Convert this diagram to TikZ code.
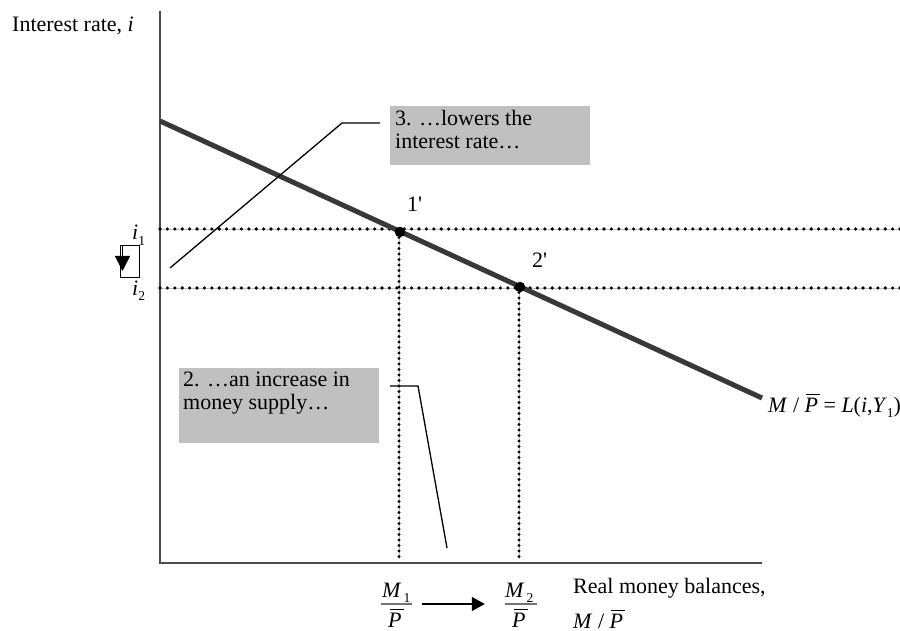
\documentclass[tikz,border=0pt]{standalone}
\usepackage{fontspec}
\setmainfont{Liberation Serif}
\usetikzlibrary{arrows.meta}
\definecolor{boxgray}{RGB}{192,192,192}
\newcommand\barP{\makebox[0pt][l]{\hspace{0.08em}\rule[0.76em]{0.64em}{1.3pt}}\textit{P}}
\newcommand\subs[1]{\raisebox{-0.24em}{\fontsize{13.5}{13.5}\selectfont #1}}
\begin{document}
\begin{tikzpicture}[x=1pt,y=-1pt,
  lbl/.style={font=\fontsize{22}{23}\selectfont, inner sep=0},
  axisline/.style={draw=black!70, line width=1.5pt},
  demand/.style={draw=black!78, line width=5pt},
  guide/.style={draw=black!25, line width=0.8pt},
  hdots/.style={line width=3.6pt, line cap=round, dash pattern=on 0pt off 7.4pt},
  vdots/.style={line width=3.4pt, line cap=round, dash pattern=on 0pt off 5.5pt},
  callout/.style={draw=black, line width=1.3pt},
  notebox/.style={fill=boxgray, anchor=north west, inner sep=0},
  dot/.style={circle, fill=black, minimum size=10.5pt, inner sep=0},
  fracbar/.style={fill=black!55, minimum height=1.4pt, inner sep=0}]
\useasboundingbox (0,0) rectangle (900,631);

% axes
\coordinate (yTop) at (160,11);
\coordinate (org) at (160,563);
\coordinate (xEnd) at (762,563);
\draw[axisline] (yTop) -- (org) -- (xEnd);

% dotted guides
\coordinate (h1a) at (160,229); \coordinate (h1b) at (900,229);
\coordinate (h2a) at (160,288); \coordinate (h2b) at (900,288);
\coordinate (v1a) at (399,232); \coordinate (v1b) at (399,559);
\coordinate (v2a) at (519,287); \coordinate (v2b) at (519,559);
\draw[guide] (h1a) -- (h1b);
\draw[guide] (h2a) -- (h2b);
\draw[guide] (v1a) -- (v1b);
\draw[guide] (v2a) -- (v2b);
\draw[hdots] (h1a) -- (h1b);
\draw[hdots] (h2a) -- (h2b);
\draw[vdots] (v1a) -- (v1b);
\draw[vdots] (v2a) -- (v2b);

% demand curve
\coordinate (dA) at (160,121);
\coordinate (dB) at (762,398);
\draw[demand] (dA) -- (dB);

% equilibrium points
\node[dot] (p1) at (400,232) {};
\node[dot] (p2) at (520,287) {};
\node[lbl, anchor=base west] (l1) at (407,212) {1\textquotesingle};
\node[lbl, anchor=base west] (l2) at (532,268) {2\textquotesingle};

% axis labels
\node[lbl, anchor=base west] (ylab) at (12,32) {Interest rate, \textit{i}};
\node[lbl, anchor=base west] (xlab1) at (573,593) {Real money balances,};
\node[lbl, anchor=base west] (xlab2) at (573,628) {\textit{M} / \barP};
\node[lbl, anchor=base west] (dlab) at (768,412) {\textit{M} / \barP{} = \textit{L}(\textit{i},\textit{Y}\subs{1})};

% i1, i2 and the small arrow box
\node[lbl, anchor=base west] (i1) at (132,240) {\textit{i}\subs{1}};
\node[lbl, anchor=base west] (i2) at (132,295) {\textit{i}\subs{2}};
\node[draw=black, line width=1.2pt, minimum width=19pt, minimum height=32pt, inner sep=0, anchor=north west] (ibox) at (120,245) {};
\coordinate (iaS) at (122.5,245);
\coordinate (iaE) at (122.5,271);
\draw[line width=1.2pt, -{Triangle[length=15pt,width=15pt]}] (iaS) -- (iaE);

% note 3
\node[notebox, minimum width=200pt, minimum height=59pt] (box3) at (390,106) {};
\node[lbl, anchor=north west, align=left] (t3) at (395,110) {3. …lowers the\\interest rate…};
\coordinate (c3a) at (170,268);
\coordinate (c3b) at (342,123);
\coordinate (c3c) at (380,123);
\draw[callout] (c3a) -- (c3b) -- (c3c);

% note 2
\node[notebox, minimum width=200pt, minimum height=75pt] (box2) at (179,368) {};
\node[lbl, anchor=north west, align=left] (t2) at (183,372) {2. …an increase in\\money supply…};
\coordinate (c2a) at (390,386);
\coordinate (c2b) at (418,386);
\coordinate (c2c) at (447,548);
\draw[callout] (c2a) -- (c2b) -- (c2c);

% fractions under the axis
\node[fracbar, minimum width=31pt] (f1) at (396.5,604) {};
\node[lbl, anchor=base west] (n1) at (382,597) {\textit{M}\hspace{2pt}\subs{1}};
\node[lbl, anchor=base west] (d1) at (388,627) {\barP};
\node[fracbar, minimum width=32pt] (f2) at (521,604) {};
\node[lbl, anchor=base west] (n2) at (505,597) {\textit{M}\hspace{2pt}\subs{2}};
\node[lbl, anchor=base west] (d2) at (512,627) {\barP};
\draw[line width=1.3pt, -{Triangle[length=13pt,width=14pt]}] ([xshift=10pt]f1.east) -- ([xshift=-20pt]f2.west);
\end{tikzpicture}
\end{document}
